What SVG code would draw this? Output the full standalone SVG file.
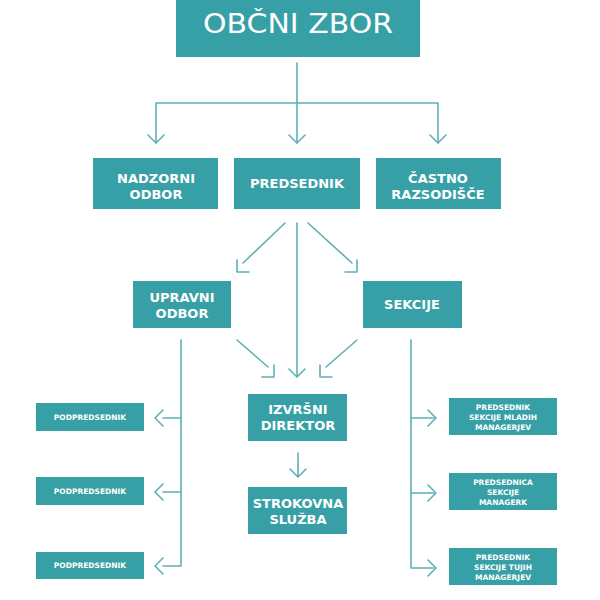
<svg xmlns="http://www.w3.org/2000/svg" width="600" height="600" viewBox="0 0 600 600">
<style>
.box{fill:#37a0a6}
.t{fill:#ffffff;font-family:"DejaVu Sans","Liberation Sans",sans-serif;font-weight:bold;text-anchor:middle}
.m{font-size:13px}
.s{font-size:7.5px}
.ln{fill:none;stroke:#5eb0b5;stroke-width:1.6;stroke-linecap:round;stroke-linejoin:round}
</style>
<rect width="600" height="600" fill="#ffffff"/>
<g id="connectors" class="ln">
<path d="M297 63V143M156 103H438M156 103V143M438 103V143"/>
<path d="M148 135L156 143L164 135M289 135L297 143L305 135M430 135L438 143L446 135"/>
<path d="M297 223V376M289 369L297 377L305 369"/>
<path d="M285 223L243 263M237 260V272H249"/>
<path d="M308 223L352 263M357 260V272H345"/>
<path d="M237 340L268 367M274 365V377H262"/>
<path d="M357 340L326 367M320 365V377H332"/>
<path d="M298 453V476M290 469L298 477L306 469"/>
<path d="M181 340V566M163 418H181M163 492H181M163 566H181"/>
<path d="M163 410L155 418L163 426M163 484L155 492L163 500M163 558L155 566L163 574"/>
<path d="M411 340V568M411 418H434M411 493H434M411 568H434"/>
<path d="M428 410L436 418L428 426M428 485L436 493L428 501M428 560L436 568L428 576"/>
</g>
<g id="obcni-zbor"><rect class="box" x="176" y="0" width="244" height="57"/><text class="t" x="298" y="33" style="font-weight:normal;font-size:26px" textLength="190" lengthAdjust="spacingAndGlyphs">OBČNI ZBOR</text></g>
<g id="nadzorni-odbor"><rect class="box" x="93" y="158" width="125" height="51"/><text class="t m" x="156" y="183">NADZORNI</text><text class="t m" x="156" y="199">ODBOR</text></g>
<g id="predsednik"><rect class="box" x="234" y="158" width="126" height="51"/><text class="t m" x="297" y="188">PREDSEDNIK</text></g>
<g id="castno-razsodisce"><rect class="box" x="376" y="158" width="125" height="51"/><text class="t m" x="438" y="183">ČASTNO</text><text class="t m" x="438" y="199">RAZSODIŠČE</text></g>
<g id="upravni-odbor"><rect class="box" x="133" y="281" width="98" height="47"/><text class="t m" x="182" y="302">UPRAVNI</text><text class="t m" x="182" y="318">ODBOR</text></g>
<g id="sekcije"><rect class="box" x="363" y="281" width="99" height="47"/><text class="t m" x="412" y="309">SEKCIJE</text></g>
<g id="izvrsni-direktor"><rect class="box" x="248" y="394" width="99" height="47"/><text class="t m" x="298" y="414">IZVRŠNI</text><text class="t m" x="298" y="430">DIREKTOR</text></g>
<g id="strokovna-sluzba"><rect class="box" x="248" y="487" width="99" height="47"/><text class="t m" x="298" y="508">STROKOVNA</text><text class="t m" x="298" y="524">SLUŽBA</text></g>
<g id="podpredsednik-1"><rect class="box" x="36" y="403" width="108" height="28"/><text class="t s" x="90" y="420">PODPREDSEDNIK</text></g>
<g id="podpredsednik-2"><rect class="box" x="36" y="477" width="108" height="28"/><text class="t s" x="90" y="494">PODPREDSEDNIK</text></g>
<g id="podpredsednik-3"><rect class="box" x="36" y="552" width="108" height="27"/><text class="t s" x="90" y="568">PODPREDSEDNIK</text></g>
<g id="sekcija-mladih"><rect class="box" x="449" y="398" width="108" height="37"/><text class="t s" x="503" y="410">PREDSEDNIK</text><text class="t s" x="503" y="420">SEKCIJE MLADIH</text><text class="t s" x="503" y="430">MANAGERJEV</text></g>
<g id="sekcija-managerk"><rect class="box" x="449" y="473" width="108" height="37"/><text class="t s" x="503" y="485">PREDSEDNICA</text><text class="t s" x="503" y="495">SEKCIJE</text><text class="t s" x="503" y="505">MANAGERK</text></g>
<g id="sekcija-tujih"><rect class="box" x="449" y="548" width="108" height="37"/><text class="t s" x="503" y="560">PREDSEDNIK</text><text class="t s" x="503" y="570">SEKCIJE TUJIH</text><text class="t s" x="503" y="580">MANAGERJEV</text></g>
</svg>
